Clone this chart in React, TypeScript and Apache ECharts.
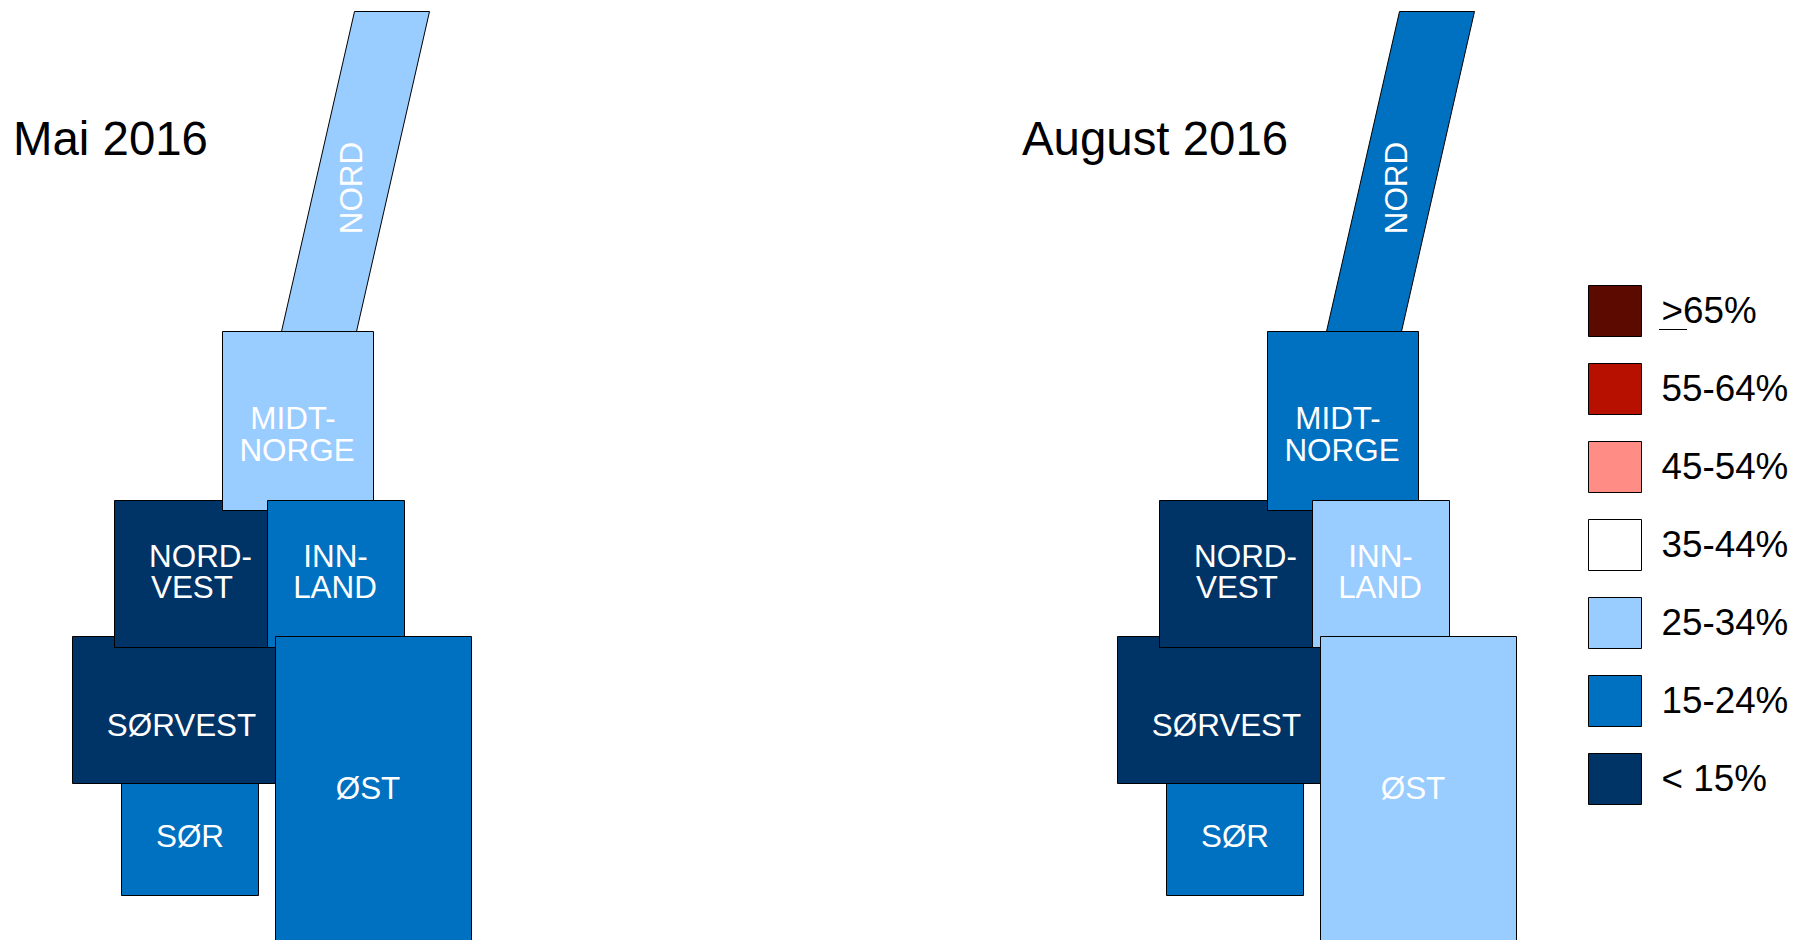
import React, { useEffect, useRef } from "react";
import * as echarts from "echarts";

const FONT = "'Liberation Sans', Arial, sans-serif";

// Draw order: later regions overlap earlier ones.
const regions = ["NORD", "SØRVEST", "NORDVEST", "MIDT-NORGE", "INNLAND", "SØR", "ØST"];
const regionLines = [["NORD"], ["SØRVEST"], ["NORD-", "VEST"], ["MIDT-", "NORGE"], ["INN-", "LAND"], ["SØR"], ["ØST"]];

// Band index per region (0 = top of the legend)
const maiBands = [4, 6, 6, 4, 5, 5, 5];
const augustBands = [5, 6, 6, 5, 4, 5, 4];

const bandLabels = [">65%", "55-64%", "45-54%", "35-44%", "25-34%", "15-24%", "< 15%"];
const bandColors = ["#5C0A00", "#B81000", "#FF8D85", "#FFFFFF", "#99CCFF", "#0070C0", "#003366"];

// Schematic map geometry, in map units (four corners clockwise)
const regionCorners = [
  [354.5, 11.5, 429.5, 11.5, 356.5, 331.5, 281.5, 331.5],
  [72.5, 636.5, 275.5, 636.5, 275.5, 783.5, 72.5, 783.5],
  [114.5, 500.5, 267.5, 500.5, 267.5, 647.5, 114.5, 647.5],
  [222.5, 331.5, 373.5, 331.5, 373.5, 510.5, 222.5, 510.5],
  [267.5, 500.5, 404.5, 500.5, 404.5, 647.5, 267.5, 647.5],
  [121.5, 783.5, 258.5, 783.5, 258.5, 895.5, 121.5, 895.5],
  [275.5, 636.5, 471.5, 636.5, 471.5, 945, 275.5, 945],
];
// Centre of each text line in map units
const labelAnchors = [
  [[351, 188]],
  [[181.5, 725]],
  [[200.5, 556], [192, 587]],
  [[293, 418], [297, 450]],
  [[335.5, 556], [335, 587]],
  [[190, 836]],
  [[368, 788]],
];

const toRows = (bands: number[]) => regionCorners.map((c, i) => [...c, bands[i]]);

function mapRenderItem(params: any, api: any) {
  const i = params.dataIndex;
  const points = [0, 2, 4, 6].map((k) => api.coord([api.value(k), api.value(k + 1)]));
  const children: any[] = [
    {
      type: "polygon",
      shape: { points },
      style: { fill: bandColors[api.value(8)], stroke: "#000", lineWidth: 1 },
    },
  ];
  regionLines[i].forEach((line, l) => {
    const p = api.coord(labelAnchors[i][l]);
    children.push({
      type: "text",
      x: p[0],
      y: p[1],
      rotation: regions[i] === "NORD" ? Math.PI / 2 : 0,
      style: {
        text: line,
        fill: "#fff",
        font: `31.4px ${FONT}`,
        align: "center",
        verticalAlign: "middle",
      },
    });
  });
  return { type: "group", children };
}

function legendRenderItem(params: any, api: any) {
  const idx = api.value(1);
  const left = api.coord([0, idx]);
  const right = api.coord([1, idx]);
  const h = api.size([0, 1])[1] * 0.66;
  const cy = left[1];
  const x0 = Math.floor(left[0]) + 0.5;
  const w = Math.round(right[0] - left[0]);
  const y0 = Math.floor(cy - h / 2) + 0.5;
  const children: any[] = [
    {
      type: "rect",
      shape: { x: x0, y: y0, width: w, height: Math.round(h) },
      style: { fill: bandColors[idx], stroke: "#000", lineWidth: 1 },
    },
    {
      type: "text",
      x: right[0] + 20.5,
      y: cy - 1,
      style: {
        text: bandLabels[idx],
        fill: "#000",
        font: `36.8px ${FONT}`,
        align: "left",
        verticalAlign: "middle",
      },
    },
  ];
  if (bandLabels[idx].startsWith(">")) {
    children.push({
      type: "line",
      shape: { x1: right[0] + 18, y1: cy + 18.5, x2: right[0] + 46, y2: cy + 18.5 },
      style: { stroke: "#000", lineWidth: 1 },
    });
  }
  return { type: "group", children };
}

const MAP_WIDTH = 749;
const mapAxisX = (gridIndex: number) => ({ type: "value", gridIndex, min: 0, max: MAP_WIDTH, show: false });
const mapAxisY = (gridIndex: number) => ({ type: "value", gridIndex, min: 0, max: 940, inverse: true, show: false });

const mapSeries = (name: string, axisIndex: number, bands: number[]) => ({
  type: "custom",
  name,
  xAxisIndex: axisIndex,
  yAxisIndex: axisIndex,
  silent: true,
  clip: false,
  renderItem: mapRenderItem,
  encode: { x: [0, 2, 4, 6], y: [1, 3, 5, 7] },
  data: toRows(bands),
});

export default function App() {
  const ref = useRef<HTMLDivElement>(null);
  useEffect(() => {
    document.body.style.margin = "0";
    const chart = echarts.init(ref.current!, null, { renderer: "svg" });
    chart.setOption({
      animation: false,
      backgroundColor: "#fff",
      tooltip: { show: false },
      title: [
        { text: "Mai 2016", left: 8, top: 110, textStyle: { fontFamily: FONT, fontSize: 47.4, fontWeight: "normal", color: "#000" } },
        { text: "August 2016", left: 1017, top: 110, textStyle: { fontFamily: FONT, fontSize: 47.4, fontWeight: "normal", color: "#000" } },
      ],
      grid: [
        { left: 0, top: 0, width: MAP_WIDTH, height: 940 },
        { left: 1045, top: 0, width: MAP_WIDTH, height: 940 },
        { left: 1588, top: 272, width: 53, height: 546 },
      ],
      xAxis: [
        mapAxisX(0),
        mapAxisX(1),
        { type: "value", gridIndex: 2, min: 0, max: 1, show: false },
      ],
      yAxis: [
        mapAxisY(0),
        mapAxisY(1),
        { type: "category", gridIndex: 2, data: bandLabels, inverse: true, show: false },
      ],
      series: [
        mapSeries("Mai 2016", 0, maiBands),
        mapSeries("August 2016", 1, augustBands),
        {
          type: "custom",
          name: "Legend",
          xAxisIndex: 2,
          yAxisIndex: 2,
          silent: true,
          clip: false,
          renderItem: legendRenderItem,
          encode: { x: 0, y: 1 },
          data: bandLabels.map((_, i) => [0, i]),
        },
      ],
    });
    return () => chart.dispose();
  }, []);
  return <div ref={ref} style={{ position: "fixed", left: 0, top: 0, width: 1794, height: 940 }} />;
}
